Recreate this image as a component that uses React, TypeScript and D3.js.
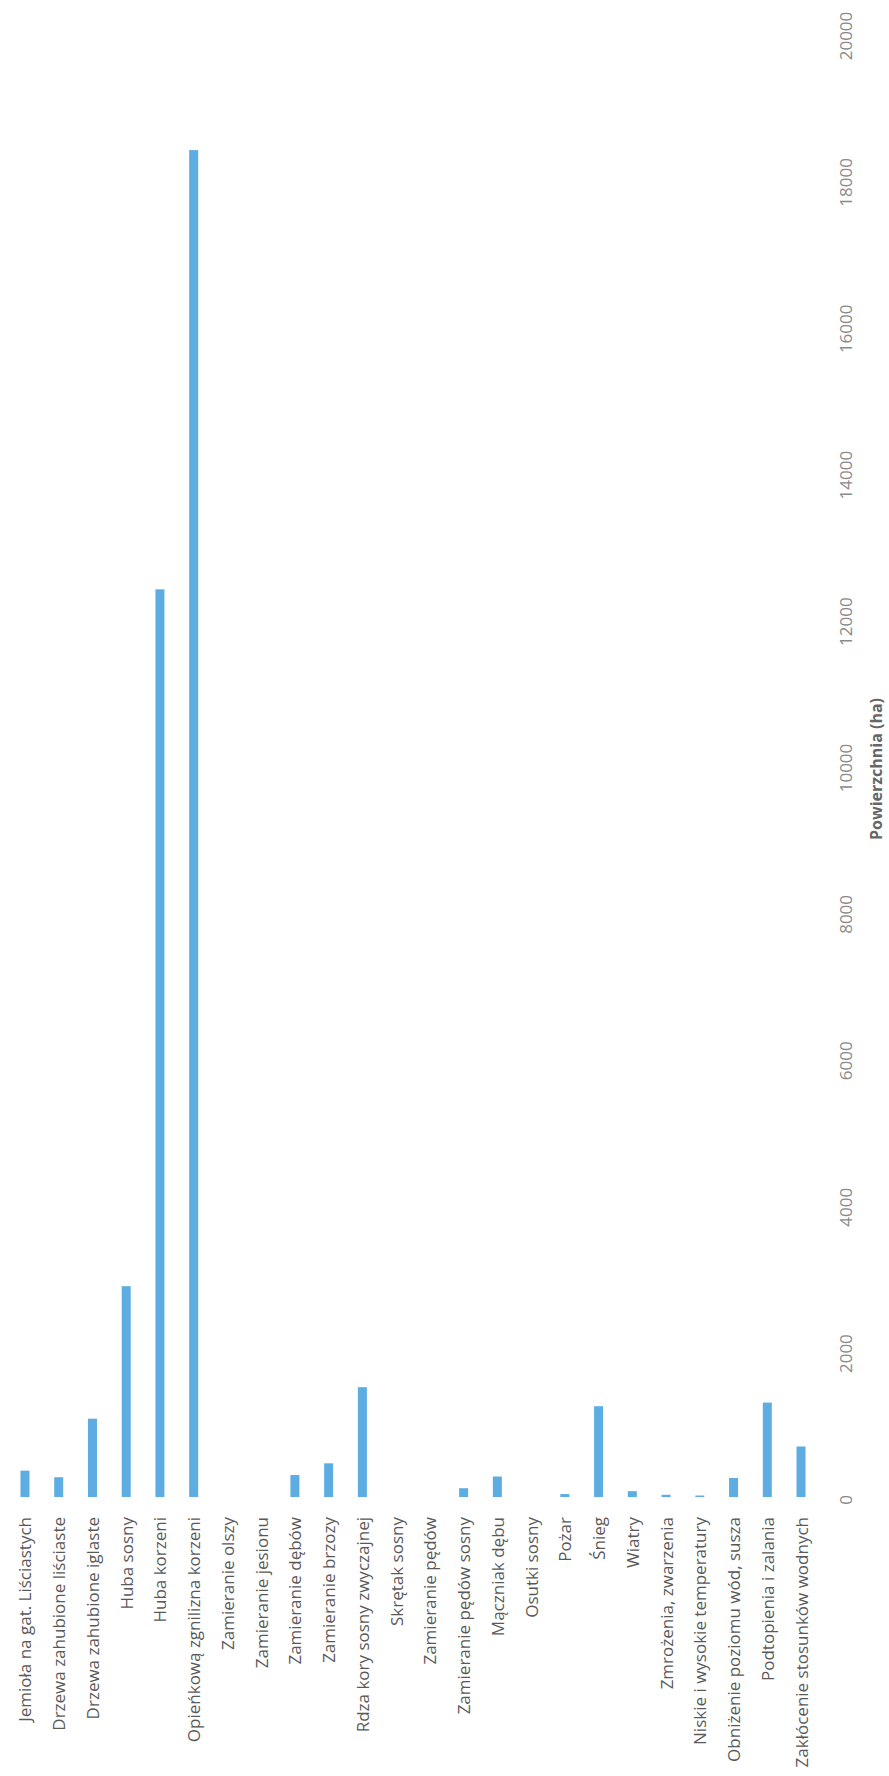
import React from "react";
import * as d3 from "d3";

const categories: string[] = [
  "Jemioła na gat. Liściastych",
  "Drzewa zahubione liściaste",
  "Drzewa zahubione iglaste",
  "Huba sosny",
  "Huba korzeni",
  "Opieńkową zgnilizna korzeni",
  "Zamieranie olszy",
  "Zamieranie jesionu",
  "Zamieranie dębów",
  "Zamieranie brzozy",
  "Rdza kory sosny zwyczajnej",
  "Skrętak sosny",
  "Zamieranie pędów",
  "Zamieranie pędów sosny",
  "Mączniak dębu",
  "Osutki sosny",
  "Pożar",
  "Śnieg",
  "Wiatry",
  "Zmrożenia, zwarzenia",
  "Niskie i wysokie temperatury",
  "Obniżenie poziomu wód, susza",
  "Podtopienia i zalania",
  "Zakłócenie stosunków wodnych",
];

const values: number[] = [
  360, 270, 1070, 2880, 12400, 18400, 0, 0, 300, 460, 1500, 0, 0, 120, 280, 0,
  40, 1240, 80, 30, 20, 260, 1290, 690,
];

const tickValues: number[] = [0, 2000, 4000, 6000, 8000, 10000, 12000, 14000, 16000, 18000, 20000];

const axisTitle = "Powierzchnia (ha)";

export default function App() {
  const W = 889;
  const H = 1776;
  const x = d3.scalePoint<string>().domain(categories).range([8.1, 817.9]).padding(0.5);
  const y = d3.scaleLinear().domain([0, 20000]).range([1497, 33]);
  const barW = 9;
  const font = "'Open Sans', 'DejaVu Sans', sans-serif";
  return (
    <svg
      width={W}
      height={H}
      style={{ position: "absolute", left: 0, top: 0, background: "#fff" }}
      fontFamily={font}
    >
      <rect x={0} y={0} width={W} height={H} fill="#fff" />
      {categories.map((c, i) => {
        const cx = x(c) as number;
        const v = values[i];
        return (
          <g key={c}>
            {v > 0 && (
              <rect
                x={cx - barW / 2}
                y={y(v)}
                width={barW}
                height={Math.max(1.5, y(0) - y(v))}
                fill="#5DADE2"
              />
            )}
            <text
              transform={`translate(${cx},1517) rotate(-90)`}
              textAnchor="end"
              dominantBaseline="central"
              fontSize={17}
              fill="#595959"
            >
              {c}
            </text>
          </g>
        );
      })}
      {tickValues.map((t) => (
        <text
          key={t}
          transform={`translate(845,${y(t) + 3}) rotate(-90)`}
          textAnchor="middle"
          dominantBaseline="central"
          fontSize={17}
          fill="#8a8a8a"
        >
          {t}
        </text>
      ))}
      <text
        transform={`translate(876,769) rotate(-90)`}
        textAnchor="middle"
        dominantBaseline="central"
        fontSize={16}
        fontWeight="bold"
        fill="#666"
      >
        {axisTitle}
      </text>
    </svg>
  );
}
